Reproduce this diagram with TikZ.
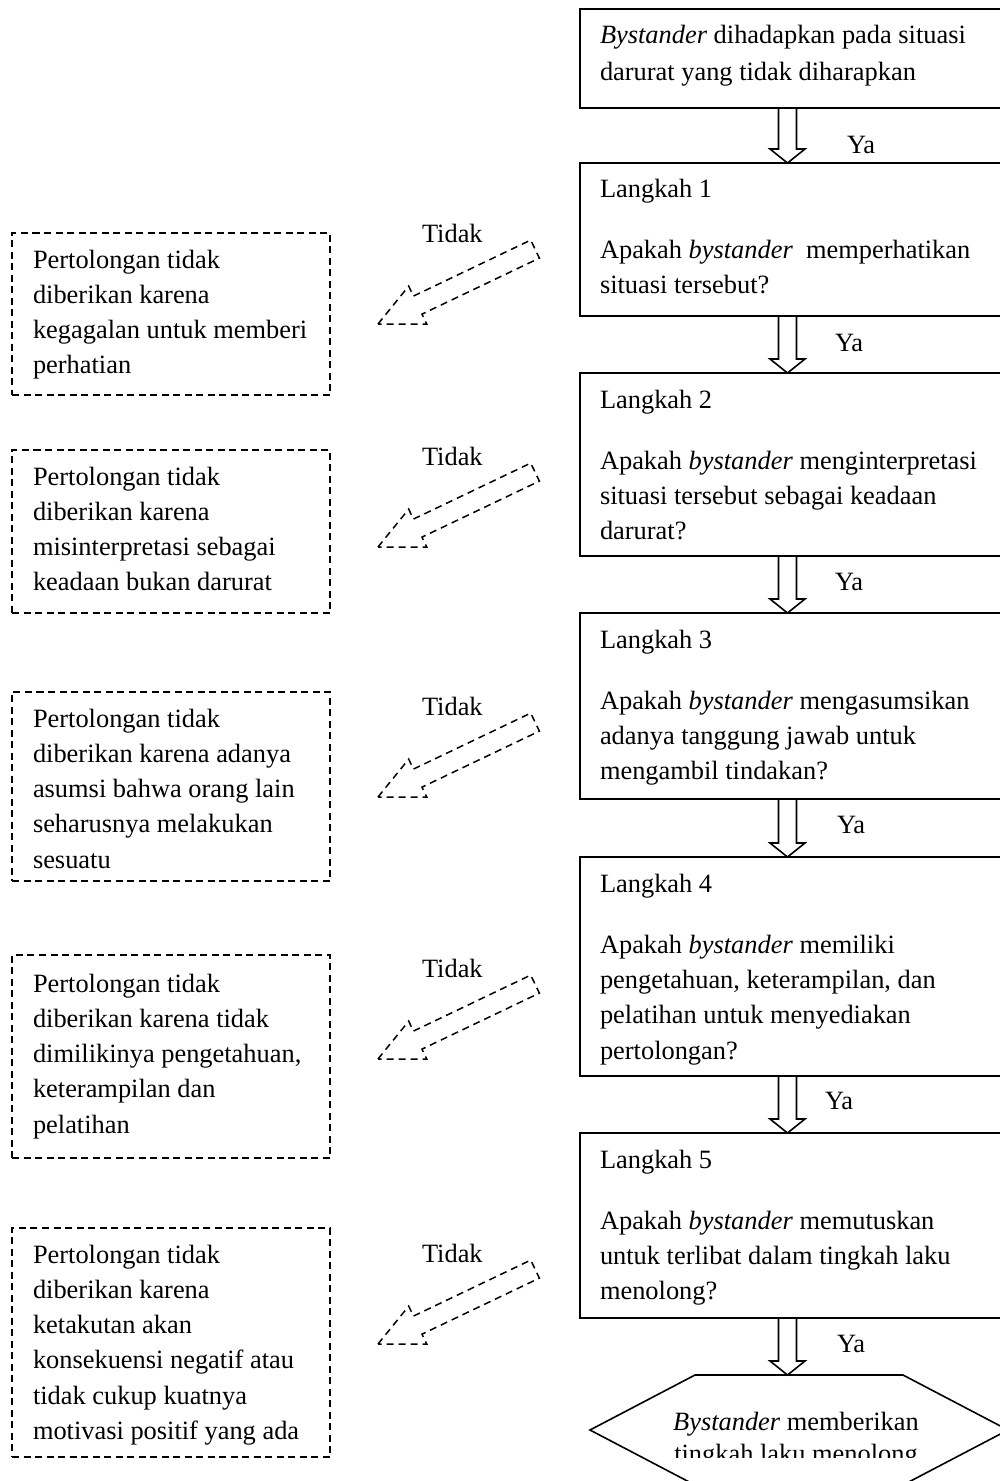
\documentclass[tikz,border=0pt]{standalone}
\usepackage{fontspec}
\setmainfont{Liberation Serif}
\usetikzlibrary{calc}
\tikzset{
  mainbox/.style={draw, line width=2pt, anchor=north west, minimum width=430pt, inner sep=0pt, outer sep=0pt},
  dbox/.style={draw, line width=1.5pt, dash pattern=on 7pt off 4.5pt, anchor=north west, minimum width=318pt, inner sep=0pt, outer sep=0pt},
  txt/.style={anchor=base west, inner sep=0pt, outer sep=0pt, font=\fontsize{26.4}{35.3}\selectfont},
  blockarr/.style={draw, line width=1.6pt, line join=miter},
  darr/.style={draw, line width=1.5pt, dash pattern=on 7pt off 5pt},
  hexline/.style={draw, line width=1.6pt},
}
\newcommand\blockarrow[2]{%
  \draw[blockarr] let \p1=#1, \p2=#2 in
    (\x1+198.5pt,\y1) -- (\x1+198.5pt,\y2+14pt) -- (\x1+190pt,\y2+14pt) --
    (\x1+207.5pt,\y2) -- (\x1+225pt,\y2+14pt) -- (\x1+216.5pt,\y2+14pt) --
    (\x1+216.5pt,\y1);}
\newcommand\dasharrow[1]{%
  \begin{scope}[shift={#1}]
    \draw[darr] (0,0) -- (30.7,-37.9) -- (35.4,-27.9) -- (152.7,-83.9) --
      (161.4,-65.9) -- (44.0,-9.9) -- (48.7,0) -- cycle;
  \end{scope}}
\begin{document}
\begin{tikzpicture}[x=1pt,y=-1pt]
\useasboundingbox (0,0) rectangle (1000,1481);
\clip (0,0) rectangle (1000,1481);

% main column boxes
\node[mainbox, minimum height=99pt]  (b0) at (580,9) {};
\node[mainbox, minimum height=153pt] (b1) at (580,163) {};
\node[mainbox, minimum height=183pt] (b2) at (580,373) {};
\node[mainbox, minimum height=186pt] (b3) at (580,613) {};
\node[mainbox, minimum height=219pt] (b4) at (580,857) {};
\node[mainbox, minimum height=185pt] (b5) at (580,1133) {};
\coordinate (hexnw) at (580,1375);

% main texts
\node[txt] (t0) at (600,43) {\parbox[t]{400pt}{\textit{Bystander} dihadapkan pada situasi\\[1.7pt]darurat yang tidak diharapkan}};
\node[txt] (t1) at (600,197) {\parbox[t]{400pt}{Langkah 1\\[26pt]Apakah \textit{bystander}~ memperhatikan\\situasi tersebut?}};
\node[txt] (t2) at (600,408) {\parbox[t]{400pt}{Langkah 2\\[26pt]Apakah \textit{bystander} menginterpretasi\\situasi tersebut sebagai keadaan\\darurat?}};
\node[txt] (t3) at (600,648) {\parbox[t]{400pt}{Langkah 3\\[26pt]Apakah \textit{bystander} mengasumsikan\\adanya tanggung jawab untuk\\mengambil tindakan?}};
\node[txt] (t4) at (600,892) {\parbox[t]{400pt}{Langkah 4\\[26pt]Apakah \textit{bystander} memiliki\\pengetahuan, keterampilan, dan\\pelatihan untuk menyediakan\\pertolongan?}};
\node[txt] (t5) at (600,1168) {\parbox[t]{400pt}{Langkah 5\\[26pt]Apakah \textit{bystander} memutuskan\\untuk terlibat dalam tingkah laku\\menolong?}};

% block arrows
\blockarrow{(b0.south west)}{(b1.north west)}
\blockarrow{(b1.south west)}{(b2.north west)}
\blockarrow{(b2.south west)}{(b3.north west)}
\blockarrow{(b3.south west)}{(b4.north west)}
\blockarrow{(b4.south west)}{(b5.north west)}
\blockarrow{(b5.south west)}{(hexnw)}

% Ya labels
\node[txt] (ya0) at (847,153) {Ya};
\node[txt] (ya1) at (835,351) {Ya};
\node[txt] (ya2) at (835,590) {Ya};
\node[txt] (ya3) at (837,833) {Ya};
\node[txt] (ya4) at (825,1109) {Ya};
\node[txt] (ya5) at (837,1352) {Ya};

% hexagon
\draw[hexline] (590,1430) -- (695,1375) -- (903,1375) -- (1008,1430) -- (903,1485) -- (695,1485) -- cycle;
\begin{scope}
  \clip (600,1380) rectangle (1000,1457);
  \node[txt, anchor=base] (th) at (796,1430) {\parbox[t]{320pt}{\centering\textit{Bystander} memberikan\\[-3pt]tingkah laku menolong}};
\end{scope}

% left dashed boxes
\node[dbox, minimum height=162pt] (d1) at (12,233) {};
\node[dbox, minimum height=163pt] (d2) at (12,450) {};
\node[dbox, minimum height=189pt] (d3) at (12,692) {};
\node[dbox, minimum height=203pt] (d4) at (12,955) {};
\node[dbox, minimum height=229pt] (d5) at (12,1228) {};

\node[txt] (s1) at (33,268) {\parbox[t]{400pt}{Pertolongan tidak\\diberikan karena\\kegagalan untuk memberi\\perhatian}};
\node[txt] (s2) at (33,485) {\parbox[t]{400pt}{Pertolongan tidak\\diberikan karena\\misinterpretasi sebagai\\keadaan bukan darurat}};
\node[txt] (s3) at (33,727) {\parbox[t]{400pt}{Pertolongan tidak\\diberikan karena adanya\\asumsi bahwa orang lain\\seharusnya melakukan\\sesuatu}};
\node[txt] (s4) at (33,992) {\parbox[t]{400pt}{Pertolongan tidak\\diberikan karena tidak\\dimilikinya pengetahuan,\\keterampilan dan\\pelatihan}};
\node[txt] (s5) at (33,1263) {\parbox[t]{400pt}{Pertolongan tidak\\diberikan karena\\ketakutan akan\\konsekuensi negatif atau\\tidak cukup kuatnya\\motivasi positif yang ada}};

% Tidak labels
\node[txt] (n1) at (422,242) {Tidak};
\node[txt] (n2) at (422,465) {Tidak};
\node[txt] (n3) at (422,715) {Tidak};
\node[txt] (n4) at (422,977) {Tidak};
\node[txt] (n5) at (422,1262) {Tidak};

% dashed arrows
\coordinate (p1) at (378,324);
\coordinate (p2) at (378,547);
\coordinate (p3) at (378,797);
\coordinate (p4) at (378,1059);
\coordinate (p5) at (378,1344);
\dasharrow{(p1)}
\dasharrow{(p2)}
\dasharrow{(p3)}
\dasharrow{(p4)}
\dasharrow{(p5)}
\end{tikzpicture}
\end{document}
